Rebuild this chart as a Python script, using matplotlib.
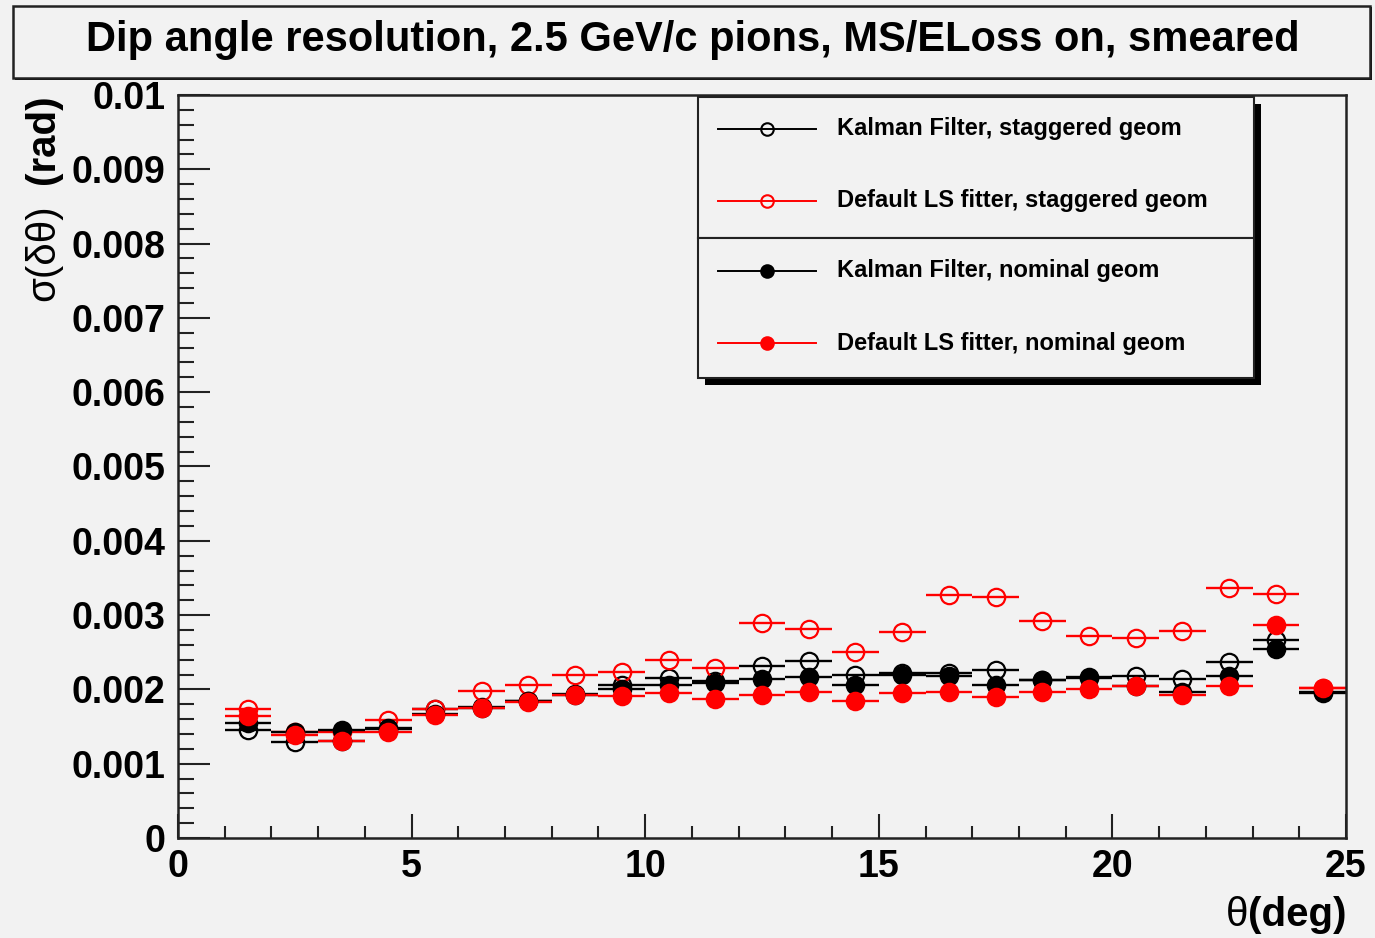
import matplotlib
matplotlib.use("Agg")
import matplotlib.pyplot as plt
from matplotlib.patches import Rectangle
from matplotlib.lines import Line2D
from matplotlib.ticker import FixedLocator, MultipleLocator, FixedFormatter

# ---------------- data ----------------
theta = [1.5, 2.5, 3.5, 4.5, 5.5, 6.5, 7.5, 8.5, 9.5, 10.5, 11.5, 12.5,
         13.5, 14.5, 15.5, 16.5, 17.5, 18.5, 19.5, 20.5, 21.5, 22.5, 23.5, 24.5]
bin_half = [0.5] * len(theta)

kalman_staggered = [0.00146, 0.00129, 0.00130, 0.00147, 0.00173, 0.00176, 0.00184, 0.00194,
                    0.00206, 0.00215, 0.00211, 0.00231, 0.00238, 0.00220, 0.00222, 0.00222,
                    0.00226, 0.00213, 0.00215, 0.00218, 0.00214, 0.00237, 0.00267, 0.00197]
ls_staggered = [0.00173, 0.00143, 0.00143, 0.00159, 0.00174, 0.00198, 0.00206, 0.00220,
                0.00223, 0.00239, 0.00229, 0.00289, 0.00281, 0.00250, 0.00277, 0.00327,
                0.00324, 0.00292, 0.00272, 0.00269, 0.00278, 0.00337, 0.00329, 0.00202]
kalman_nominal = [0.00155, 0.00143, 0.00145, 0.00148, 0.00167, 0.00175, 0.00184, 0.00193,
                  0.00200, 0.00206, 0.00209, 0.00214, 0.00217, 0.00206, 0.00220, 0.00218,
                  0.00206, 0.00213, 0.00217, 0.00205, 0.00197, 0.00218, 0.00254, 0.00195]
ls_nominal = [0.00164, 0.00138, 0.00131, 0.00142, 0.00165, 0.00175, 0.00183, 0.00192,
              0.00191, 0.00195, 0.00187, 0.00193, 0.00197, 0.00184, 0.00195, 0.00197,
              0.00190, 0.00197, 0.00200, 0.00204, 0.00193, 0.00205, 0.00287, 0.00202]

series_labels = ["Kalman Filter, staggered geom", "Default LS fitter, staggered geom",
                 "Kalman Filter, nominal geom", "Default LS fitter, nominal geom"]

y_ticks = [0.0, 0.001, 0.002, 0.003, 0.004, 0.005, 0.006, 0.007, 0.008, 0.009, 0.01]
y_tick_labels = ["0", "0.001", "0.002", "0.003", "0.004", "0.005", "0.006",
                 "0.007", "0.008", "0.009", "0.01"]
x_ticks = [0, 5, 10, 15, 20, 25]
x_tick_labels = ["0", "5", "10", "15", "20", "25"]

title = "Dip angle resolution, 2.5 GeV/c pions, MS/ELoss on, smeared"

# ---------------- style ----------------
W, H = 1375, 938
BG = "#f2f2f2"
FRAME = "#222222"
plt.rcParams["font.family"] = ["Liberation Sans", "DejaVu Sans"]

fig = plt.figure(figsize=(W / 100, H / 100), dpi=100, facecolor=BG)


def fx(px):
    return px / W


def fy(py):
    return 1 - py / H


ax_l, ax_r, ax_t, ax_b = 178, 1346, 95, 838
ax = fig.add_axes([fx(ax_l), fy(ax_b), (ax_r - ax_l) / W, (ax_b - ax_t) / H])
ax.set_facecolor(BG)
ax.set_xlim(0, 25)
ax.set_ylim(0, 0.01)

styles = [
    dict(data=kalman_staggered, color="black", mfc="none"),
    dict(data=ls_staggered, color="#ff0000", mfc="none"),
    dict(data=kalman_nominal, color="black", mfc="black"),
    dict(data=ls_nominal, color="#ff0000", mfc="#ff0000"),
]
for s, lab in zip(styles, series_labels):
    ax.errorbar(theta, s["data"], xerr=bin_half, fmt="o", color=s["color"],
                ecolor=s["color"], mfc=s["mfc"], mec=s["color"], ms=12.5, mew=1.6,
                elinewidth=1.7, capsize=0, label=lab)

for sp in ax.spines.values():
    sp.set_color(FRAME)
    sp.set_linewidth(1.8)

ax.yaxis.set_major_locator(FixedLocator(y_ticks))
ax.yaxis.set_major_formatter(FixedFormatter(y_tick_labels))
ax.yaxis.set_minor_locator(MultipleLocator(0.0002))
ax.xaxis.set_major_locator(FixedLocator(x_ticks))
ax.xaxis.set_major_formatter(FixedFormatter(x_tick_labels))
ax.xaxis.set_minor_locator(MultipleLocator(1))

ax.tick_params(axis="y", which="major", direction="in", length=23, width=1.5,
               color=FRAME, labelsize=27, pad=9, right=False)
ax.tick_params(axis="y", which="minor", direction="in", length=11.5, width=1.5,
               color=FRAME, right=False)
ax.tick_params(axis="x", which="major", direction="in", length=17, width=1.5,
               color=FRAME, labelsize=27, pad=8, top=False)
ax.tick_params(axis="x", which="minor", direction="in", length=8.5, width=1.5,
               color=FRAME, top=False)
for lbl in ax.get_xticklabels() + ax.get_yticklabels():
    lbl.set_fontweight("bold")

# axis labels (mixed weights)
fig.text(fx(43), fy(94), "(rad)", rotation=90, ha="center", va="top",
         fontsize=29, fontweight="bold")
fig.text(fx(43), fy(204), "σ(δθ)", rotation=90, ha="center", va="top",
         fontsize=29)
fig.text(fx(1346), fy(926), "(deg)", ha="right", va="baseline",
         fontsize=29, fontweight="bold")
fig.text(fx(1248), fy(926), "θ", ha="right", va="baseline", fontsize=29)

# title box
fig.patches.append(Rectangle((fx(15), fy(80)), (1372 - 15) / W, (80 - 7) / H,
                             transform=fig.transFigure, facecolor="black",
                             edgecolor="none", zorder=0))
fig.patches.append(Rectangle((fx(13), fy(78)), (1370 - 13) / W, (78 - 6) / H,
                             transform=fig.transFigure, facecolor=BG,
                             edgecolor=FRAME, linewidth=1.8, zorder=1))
fig.text(fx(693), fy(40), title, ha="center", va="center", fontsize=30,
         fontweight="bold", zorder=2)

# legend: two boxes with shadows
leg_boxes = [(97, 238), (238, 378)]
lx0, lx1 = 698, 1254
sh = 7
for (t, b) in leg_boxes:
    fig.patches.append(Rectangle((fx(lx0 + sh), fy(b + sh)), (lx1 - lx0) / W, (b - t) / H,
                                 transform=fig.transFigure, facecolor="black",
                                 edgecolor="none", zorder=5))
for (t, b) in leg_boxes:
    fig.patches.append(Rectangle((fx(lx0), fy(b)), (lx1 - lx0) / W, (b - t) / H,
                                 transform=fig.transFigure, facecolor=BG,
                                 edgecolor=FRAME, linewidth=1.5, zorder=6))

row_y = [129, 201, 271, 343]
for s, lab, ry in zip(styles, series_labels, row_y):
    fig.add_artist(Line2D([fx(718), fx(816)], [fy(ry), fy(ry)], color=s["color"],
                          lw=1.4, transform=fig.transFigure, zorder=7))
    fig.add_artist(Line2D([fx(767)], [fy(ry)], marker="o", ms=9, mfc=s["mfc"],
                          mec=s["color"], mew=1.5, color=s["color"],
                          transform=fig.transFigure, zorder=8))
    fig.text(fx(837), fy(ry), lab, ha="left", va="center", fontsize=17,
             fontweight="bold", zorder=9)

fig.savefig("out.png", dpi=100, facecolor=BG)
